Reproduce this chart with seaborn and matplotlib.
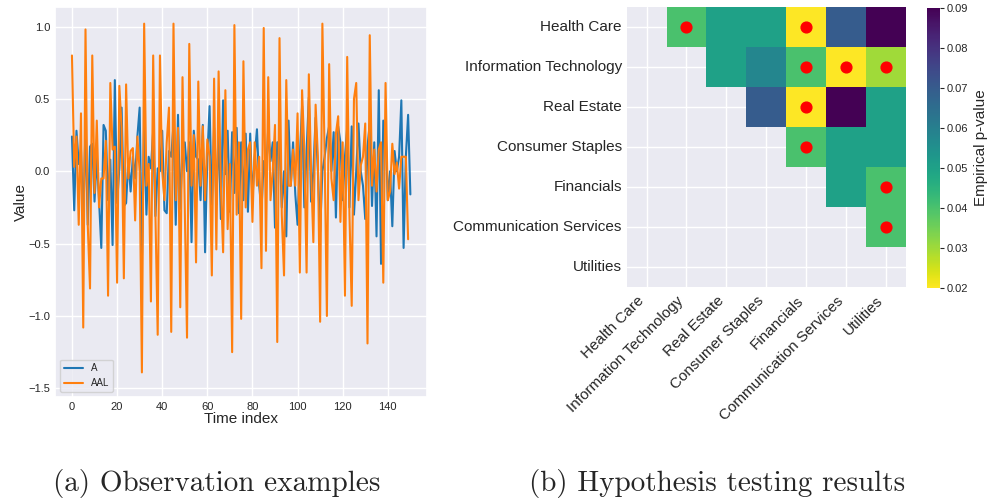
import matplotlib
matplotlib.use("Agg")
import matplotlib.pyplot as plt
import numpy as np
import pandas as pd
import seaborn as sns

# Observation examples
series_a = [0.24, -0.27, 0.28, 0.05, 0.15, -0.35, 0.31, -0.37, 0.17, 0.19,
            -0.21, 0.10, -0.20, -0.53, 0.32, 0.28, -0.20, 0.08, -0.51, 0.63,
            -0.22, 0.02, 0.44, -0.24, -0.22, 0.08, -0.14, 0.10, -0.05, 0.24,
            0.44, -0.61, 0.33, -0.30, 0.10, 0.02, 0.28, -0.31, 0.02, 0.00,
            0.28, -0.27, -0.29, 0.14, 0.10, 0.32, -0.37, 0.39, -0.26, 0.15,
            0.20, 0.00, 0.20, -0.49, 0.28, 0.10, 0.08, -0.20, 0.32, -0.56,
            0.10, 0.45, -0.23, 0.30, -0.23, 0.30, -0.33, 0.49, -0.02, 0.28,
            -0.28, 0.27, -0.15, 0.30, -0.29, 0.20, -0.20, 0.26, -0.28, 0.26,
            -0.20, 0.10, 0.29, -0.10, -0.27, 0.07, -0.05, 0.30, 0.07, 0.20,
            -0.39, 0.20, 0.20, -0.25, 0.00, -0.45, 0.35, -0.10, 0.20, -0.16,
            -0.37, 0.10, 0.45, -0.25, 0.14, 0.51, -0.21, 0.00, 0.37, 0.00,
            -0.42, 0.00, 0.10, 0.23, 0.31, 0.00, 0.27, -0.32, 0.31, 0.20,
            -0.20, 0.10, 0.30, -0.25, 0.31, -0.30, 0.00, 0.33, 0.00, -0.10,
            -0.33, 0.17, 0.33, -0.24, 0.20, -0.45, 0.56, -0.64, 0.35, 0.30,
            -0.20, 0.00, -0.38, 0.14, 0.00, 0.10, 0.49, -0.53, 0.10, 0.39,
            -0.16]
series_aal = [0.80, 0.03, 0.24, -0.37, 0.40, -1.08, 0.98, -0.37, -0.81, 0.80,
              -0.15, 0.35, -0.25, -0.05, -0.05, 0.21, -0.86, 0.61, 0.15, 0.17,
              -0.77, 0.59, 0.30, -0.74, 0.60, -0.05, 0.14, 0.16, -0.34, 0.24,
              0.00, -1.39, 1.02, -0.10, 0.05, -0.90, 0.80, -0.30, -1.13, 0.80,
              0.00, -0.20, 0.20, 0.44, -1.11, 1.02, -0.20, 0.30, -0.94, 0.65,
              -0.25, -1.15, 0.88, -0.10, 0.25, -0.63, 0.62, -0.10, 0.31, -0.20,
              0.22, 0.10, -0.72, 0.64, -0.54, 0.69, -0.10, -0.56, 0.56, -0.40,
              0.05, -1.25, 1.01, -0.30, 0.20, -1.02, 0.76, -0.25, 0.15, 0.20,
              -0.35, 0.20, -0.10, 0.10, -0.67, 0.99, -0.55, 0.65, -0.20, 0.00,
              0.32, -1.18, 0.92, -0.30, -0.72, 0.63, -0.10, -0.10, 0.15, -0.10,
              0.40, -0.70, 0.56, 0.15, -0.70, 0.67, 0.00, -0.49, 0.46, 0.10,
              -1.04, 1.02, 0.10, -1.00, 0.74, -0.05, -0.20, 0.26, 0.38, -0.35,
              0.20, -0.86, 0.79, -0.30, -0.93, 0.50, 0.61, -0.20, 0.04, 0.10,
              0.33, -1.19, 0.94, -0.10, 0.15, -0.14, 0.15, 0.20, -0.77, 0.61,
              -0.20, -0.14, 0.19, -0.02, 0.06, -0.12, 0.10, 0.10, 0.10, -0.47]

# Hypothesis testing results (upper triangle, NaN = not shown)
sectors = ['Health Care', 'Information Technology', 'Real Estate',
           'Consumer Staples', 'Financials', 'Communication Services', 'Utilities']
nan = np.nan
pvals = [
    [nan, 0.040, 0.050, 0.050, 0.020, 0.070, 0.090],
    [nan, nan, 0.050, 0.058, 0.040, 0.020, 0.030],
    [nan, nan, nan, 0.070, 0.020, 0.090, 0.050],
    [nan, nan, nan, nan, 0.040, 0.050, 0.050],
    [nan, nan, nan, nan, nan, 0.050, 0.040],
    [nan, nan, nan, nan, nan, nan, 0.040],
    [nan, nan, nan, nan, nan, nan, nan],
]
alpha = 0.05

sns.set_theme(style='darkgrid')
plt.rcParams['font.family'] = ['Liberation Sans', 'DejaVu Sans']

fig = plt.figure(figsize=(9.9, 5), dpi=100)

# (a) line plot
ax1 = fig.add_axes([0.0556, 0.206, 0.376, 0.78])
df_line = pd.DataFrame({
    'Time index': list(range(len(series_a))) + list(range(len(series_aal))),
    'Value': series_a + series_aal,
    'series': ['A'] * len(series_a) + ['AAL'] * len(series_aal),
})
sns.lineplot(data=df_line, x='Time index', y='Value', hue='series',
             palette=['#1f77b4', '#ff7f0e'], linewidth=1.5, ax=ax1)
ax1.set_ylim(-1.56, 1.135)
ax1.set_yticks([-1.5, -1.0, -0.5, 0.0, 0.5, 1.0])
ax1.tick_params(labelsize=8, length=0, pad=3.5)
ax1.set_xlabel('Time index', fontsize=11, labelpad=0)
ax1.set_ylabel('Value', fontsize=11, labelpad=0)
ax1.legend(loc='lower left', fontsize=7, title=None)

# (b) heatmap
ax2 = fig.add_axes([0.633, 0.426, 0.282, 0.56])
cax = fig.add_axes([0.936, 0.424, 0.013, 0.56])
df_p = pd.DataFrame(pvals, index=sectors, columns=sectors)
sns.heatmap(df_p, cmap='viridis_r', vmin=0.02, vmax=0.09, ax=ax2, cbar_ax=cax)
ax2.grid(True)
ax2.set_axisbelow(True)
rows, cols = np.where(df_p.values < alpha)
ax2.scatter(cols + 0.5, rows + 0.5, s=60, color='red', zorder=3)
ax2.set_xticklabels(sectors, rotation=45, ha='right', fontsize=11)
ax2.set_yticklabels(sectors, rotation=0, fontsize=11)
ax2.tick_params(length=0)
ax2.tick_params(axis='x', pad=5)
cax.tick_params(labelsize=8, length=3, width=0.8, pad=2)
cax.set_ylabel('Empirical p-value', fontsize=11, labelpad=4)

# captions
fig.text(0.219, 0.034, '(a) Observation examples', ha='center', va='center',
         family='cmr10', fontsize=21)
fig.text(0.724, 0.034, '(b) Hypothesis testing results', ha='center', va='center',
         family='cmr10', fontsize=21)

fig.savefig('out.png', dpi=100)
